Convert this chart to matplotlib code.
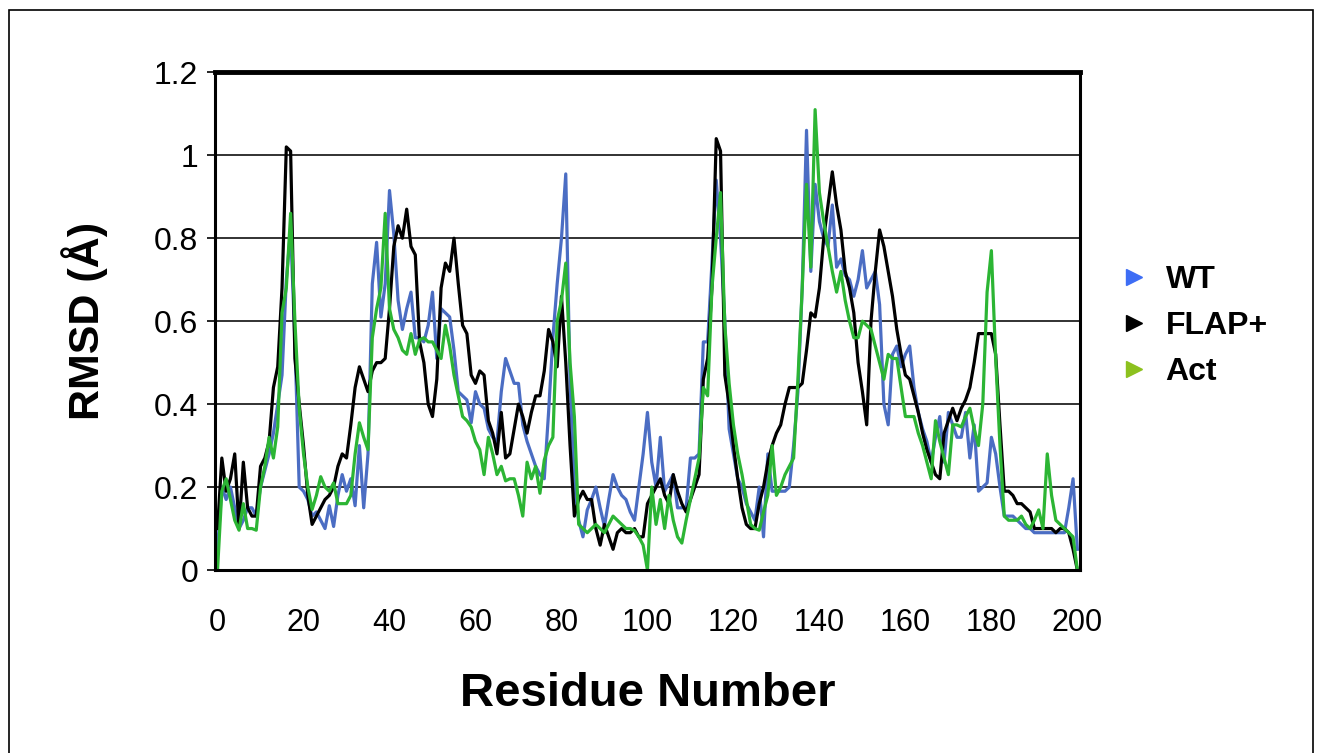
import numpy as np
import matplotlib.pyplot as plt
from matplotlib.lines import Line2D
from matplotlib.patches import Rectangle

# residue numbers 0..200
residues = np.arange(0, 201)

wt = [0.05, 0.20, 0.17, 0.20, 0.15, 0.10, 0.12, 0.15, 0.15, 0.13,
      0.20, 0.24, 0.28, 0.33, 0.40, 0.47, 0.70, 0.82, 0.55, 0.20,
      0.19, 0.17, 0.13, 0.14, 0.12, 0.10, 0.155, 0.105, 0.18, 0.23,
      0.19, 0.22, 0.155, 0.30, 0.15, 0.28, 0.69, 0.79, 0.61, 0.69,
      0.915, 0.81, 0.65, 0.58, 0.63, 0.67, 0.56, 0.56, 0.55, 0.59,
      0.67, 0.51, 0.63, 0.62, 0.61, 0.53, 0.43, 0.42, 0.41, 0.355,
      0.43, 0.40, 0.39, 0.34, 0.32, 0.31, 0.43, 0.51, 0.48, 0.45,
      0.45, 0.35, 0.31, 0.28, 0.25, 0.23, 0.22, 0.38, 0.56, 0.69,
      0.80, 0.955, 0.45, 0.21, 0.12, 0.08, 0.145, 0.17, 0.20, 0.15,
      0.105, 0.17, 0.23, 0.20, 0.18, 0.17, 0.14, 0.12, 0.20, 0.28,
      0.38, 0.26, 0.20, 0.32, 0.19, 0.21, 0.23, 0.15, 0.15, 0.15,
      0.27, 0.27, 0.28, 0.55, 0.55, 0.74, 0.94, 0.80, 0.60, 0.34,
      0.28, 0.22, 0.20, 0.16, 0.14, 0.12, 0.20, 0.08, 0.28, 0.19,
      0.19, 0.19, 0.19, 0.20, 0.30, 0.43, 0.68, 1.06, 0.72, 0.93,
      0.84, 0.80, 0.78, 0.88, 0.73, 0.75, 0.71, 0.70, 0.66, 0.70,
      0.77, 0.68, 0.70, 0.72, 0.64, 0.40, 0.35, 0.52, 0.54, 0.49,
      0.52, 0.54, 0.44, 0.38, 0.34, 0.31, 0.26, 0.32, 0.37, 0.26,
      0.38, 0.35, 0.32, 0.32, 0.38, 0.27, 0.35, 0.19, 0.20, 0.21,
      0.32, 0.28, 0.20, 0.13, 0.13, 0.13, 0.12, 0.11, 0.10, 0.10,
      0.09, 0.09, 0.09, 0.09, 0.09, 0.09, 0.09, 0.09, 0.15, 0.22,
      0.05]

flap = [0.10, 0.27, 0.19, 0.22, 0.28, 0.10, 0.26, 0.15, 0.13, 0.13,
        0.25, 0.27, 0.31, 0.44, 0.49, 0.68, 1.02, 1.01, 0.51, 0.40,
        0.30, 0.18, 0.11, 0.13, 0.15, 0.17, 0.18, 0.20, 0.25, 0.28,
        0.27, 0.35, 0.44, 0.49, 0.46, 0.43, 0.48, 0.50, 0.50, 0.51,
        0.63, 0.78, 0.83, 0.80, 0.87, 0.78, 0.76, 0.55, 0.50, 0.40,
        0.37, 0.46, 0.68, 0.74, 0.72, 0.80, 0.69, 0.59, 0.57, 0.47,
        0.45, 0.48, 0.47, 0.36, 0.33, 0.28, 0.38, 0.27, 0.28, 0.34,
        0.40, 0.37, 0.33, 0.38, 0.42, 0.42, 0.48, 0.58, 0.55, 0.49,
        0.66, 0.50, 0.30, 0.13, 0.17, 0.19, 0.17, 0.17, 0.10, 0.06,
        0.11, 0.08, 0.05, 0.09, 0.10, 0.09, 0.09, 0.10, 0.08, 0.08,
        0.16, 0.18, 0.20, 0.22, 0.18, 0.16, 0.23, 0.19, 0.16, 0.14,
        0.17, 0.20, 0.23, 0.46, 0.51, 0.68, 1.04, 1.01, 0.47, 0.40,
        0.30, 0.22, 0.15, 0.11, 0.10, 0.10, 0.16, 0.20, 0.26, 0.30,
        0.33, 0.35, 0.40, 0.44, 0.44, 0.44, 0.45, 0.53, 0.62, 0.61,
        0.68, 0.80, 0.88, 0.96, 0.88, 0.82, 0.72, 0.68, 0.62, 0.50,
        0.43, 0.35, 0.60, 0.72, 0.82, 0.78, 0.72, 0.66, 0.58, 0.52,
        0.47, 0.46, 0.42, 0.38, 0.33, 0.29, 0.26, 0.23, 0.22, 0.33,
        0.36, 0.39, 0.36, 0.39, 0.41, 0.44, 0.50, 0.57, 0.57, 0.57,
        0.57, 0.52, 0.35, 0.19, 0.19, 0.18, 0.16, 0.16, 0.15, 0.14,
        0.10, 0.10, 0.10, 0.10, 0.10, 0.09, 0.10, 0.10, 0.09, 0.05,
        0.0]

act = [0.0, 0.19, 0.22, 0.17, 0.12, 0.096, 0.16, 0.10, 0.10, 0.096,
       0.20, 0.25, 0.32, 0.27, 0.345, 0.62, 0.68, 0.86, 0.60, 0.39,
       0.28, 0.20, 0.146, 0.18, 0.225, 0.20, 0.19, 0.21, 0.16, 0.16,
       0.16, 0.18, 0.28, 0.355, 0.32, 0.29, 0.56, 0.63, 0.68, 0.86,
       0.63, 0.58, 0.56, 0.53, 0.52, 0.57, 0.52, 0.555, 0.56, 0.55,
       0.55, 0.53, 0.51, 0.59, 0.54, 0.47, 0.42, 0.37, 0.36, 0.345,
       0.31, 0.29, 0.23, 0.32, 0.28, 0.23, 0.25, 0.215, 0.22, 0.22,
       0.18, 0.13, 0.26, 0.22, 0.25, 0.185, 0.265, 0.30, 0.32, 0.60,
       0.65, 0.74, 0.50, 0.37, 0.11, 0.10, 0.09, 0.10, 0.11, 0.10,
       0.09, 0.11, 0.13, 0.12, 0.11, 0.10, 0.10, 0.095, 0.08, 0.06,
       0.0, 0.20, 0.11, 0.17, 0.10, 0.18, 0.12, 0.08, 0.065, 0.12,
       0.17, 0.22, 0.27, 0.44, 0.42, 0.68, 0.80, 0.91, 0.59, 0.45,
       0.35, 0.28, 0.23, 0.17, 0.11, 0.10, 0.096, 0.14, 0.18, 0.30,
       0.18, 0.20, 0.23, 0.25, 0.27, 0.46, 0.68, 0.93, 0.73, 1.11,
       0.91, 0.84, 0.78, 0.72, 0.67, 0.72, 0.65, 0.60, 0.56, 0.56,
       0.60, 0.59, 0.58, 0.54, 0.50, 0.46, 0.52, 0.51, 0.51, 0.44,
       0.37, 0.37, 0.37, 0.33, 0.30, 0.26, 0.22, 0.36, 0.31, 0.27,
       0.23, 0.35, 0.35, 0.345, 0.37, 0.39, 0.34, 0.30, 0.40, 0.67,
       0.77, 0.51, 0.30, 0.13, 0.12, 0.12, 0.12, 0.13, 0.11, 0.10,
       0.12, 0.145, 0.10, 0.28, 0.18, 0.12, 0.11, 0.10, 0.09, 0.08,
       0.0]

series_names = ['WT', 'FLAP+', 'Act']
line_colors = ['#4b6dc3', '#000000', '#2cb534']
legend_colors = ['#3d6df5', '#000000', '#8cc11e']

yticks = [0, 0.2, 0.4, 0.6, 0.8, 1.0, 1.2]
ytick_labels = ['0', '0.2', '0.4', '0.6', '0.8', '1', '1.2']
xticks = list(range(0, 201, 20))

fig = plt.figure(figsize=(13.22, 7.53), dpi=100)
plt.rcParams['font.family'] = ['Liberation Sans', 'DejaVu Sans']

# outer frame of the picture
fig.patches.append(Rectangle((0.007, -0.05), 0.986, 1.037, transform=fig.transFigure,
                             fill=False, edgecolor='black', linewidth=1.2))

ax = fig.add_axes([0.1626, 0.243, 0.6543, 0.661])

for yv, nm, c in zip([wt, flap, act], series_names, line_colors):
  ax.plot(residues, yv, color=c, linewidth=2.3, label=nm)

ax.set_xlim(-0.6, 200.6)
ax.set_ylim(0, 1.2)
ax.set_yticks(yticks)
ax.set_yticklabels(ytick_labels)
ax.set_xticks(xticks)
ax.yaxis.grid(True, color='#222222', linewidth=1.3)
ax.set_axisbelow(True)

ax.tick_params(axis='y', labelsize=23, length=6, width=1.2, pad=6)
ax.tick_params(axis='x', labelsize=22, length=0, pad=27)
for s in ['left', 'right', 'bottom']:
  ax.spines[s].set_linewidth(2.2)
ax.spines['top'].set_linewidth(3.5)

ax.set_xlabel('Residue Number', fontsize=34, fontweight='bold', labelpad=25)
ax.set_ylabel('RMSD (Å)', fontsize=31, fontweight='bold', labelpad=33)

handles = [Line2D([], [], linestyle='none', marker='>', markersize=12,
                  markerfacecolor=c, markeredgecolor=c) for c in legend_colors]
leg = ax.legend(handles, series_names, loc='center left', bbox_to_anchor=(1.014, 0.49),
                frameon=False, handlelength=0.8, handletextpad=0.6, labelspacing=0.5,
                prop={'size': 23, 'weight': 'bold'})

fig.savefig('out.png', dpi=100)
